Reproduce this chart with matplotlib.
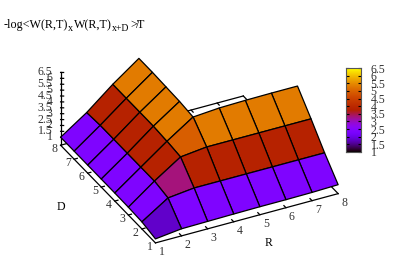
import numpy as np
import matplotlib
matplotlib.use('Agg')
import matplotlib.pyplot as plt
from matplotlib.colors import LinearSegmentedColormap, Normalize
from mpl_toolkits.mplot3d.art3d import Poly3DCollection

plt.rcParams['font.family'] = ['Liberation Serif', 'DejaVu Serif']

n = np.nan
r_ticks = [1, 2, 3, 4, 5, 6, 7, 8]
d_ticks = [1, 2, 3, 4, 5, 6, 7, 8]
z_ticks = [1, 1.5, 2, 2.5, 3, 3.5, 4, 4.5, 5, 5.5, 6, 6.5]
z_labels = ['1', '1.5', '2', '2.5', '3', '3.5', '4', '4.5', '5', '5.5', '6', '6.5']
z_base = 0.32

# heights, one row per D (1 to 8), one column per R (1 to 8)
z_d1 = [0.66, 0.92, 0.95, 0.98, 1.0, 1.0, 1.02, 1.08]
z_d2 = [0.92, 2.35, 2.6, 2.6, 2.6, 2.6, 2.6, 2.6]
z_d3 = [0.98, 2.6, 4.05, 4.3, 4.3, 4.3, 4.3, 4.3]
z_d4 = [1.0, 2.6, 4.2, 5.66, 5.83, 5.88, 5.9, 5.9]
z_d5 = [1.0, 2.6, 4.3, 5.8, n, n, n, n]
z_d6 = [1.0, 2.6, 4.3, 5.85, n, n, n, n]
z_d7 = [1.0, 2.6, 4.3, 5.9, n, n, n, n]
z_d8 = [1.0, 2.5, 4.3, 5.9, n, n, n, n]
heights = np.array([z_d1, z_d2, z_d3, z_d4, z_d5, z_d6, z_d7, z_d8])

# colour value of each facet, read from the palette
c_d1 = [1.8, 2.37, 2.37, 2.37, 2.37, 2.37, 2.37]
c_d2 = [2.37, 3.3, 3.8, 3.8, 3.8, 3.8, 3.8]
c_d3 = [2.37, 3.8, 4.95, 5.3, 5.3, 5.3, 5.3]
c_d4 = [2.37, 3.8, 5.3, n, n, n, n]
c_d5 = [2.37, 3.8, 5.3, n, n, n, n]
c_d6 = [2.37, 3.8, 5.3, n, n, n, n]
c_d7 = [2.37, 3.8, 5.3, n, n, n, n]
cells = np.array([c_d1, c_d2, c_d3, c_d4, c_d5, c_d6, c_d7])

# gnuplot default pm3d palette (rgbformulae 7,5,15)
g = np.linspace(0, 1, 256)
palette = np.column_stack([np.sqrt(g), g**3, np.clip(np.sin(2 * np.pi * g), 0, 1)])
cmap = LinearSegmentedColormap.from_list('pm3d', palette)
norm = Normalize(1, 6.5)

fig = plt.figure(figsize=(3.99, 2.79), dpi=100)
ax = fig.add_axes([-3.9 / 399, 2.7 / 279, 1, 1], projection='3d', proj_type='ortho',
                  computed_zorder=False)
ax.set_box_aspect((206, 209, 86), zoom=1.06)
ax.view_init(elev=31.8, azim=-117.1)
ax.set_xlim(1, 8, view_margin=0)
ax.set_ylim(1, 8, view_margin=0)
ax.set_zlim(z_base, 6.5, view_margin=0)
ax.set_axis_off()
ax.patch.set_alpha(0)

line = dict(color='black', lw=0.9, zorder=1, clip_on=False)
# base frame
ax.plot([1, 8], [1, 1], [z_base, z_base], **line)
ax.plot([1, 1], [1, 8], [z_base, z_base], **line)
ax.plot([8, 8], [1, 8], [z_base, z_base], **line)
ax.plot([1, 8], [8, 8], [z_base, z_base], **line)
ax.plot([1, 1], [8, 8], [z_base, 6.5], **line)

for r in r_ticks[1:-1]:
    ax.plot([r, r], [1, 1.15], [z_base, z_base], **line)
    ax.plot([r, r], [8, 7.85], [z_base, z_base], **line)
for d in d_ticks[1:-1]:
    ax.plot([1, 1.12], [d, d], [z_base, z_base], **line)
    ax.plot([8, 7.88], [d, d], [z_base, z_base], **line)
for z in z_ticks:
    ax.plot([1, 1.09], [8, 7.95], [z, z], **line)

# surface
polys, faces = [], []
for i in range(cells.shape[0]):
    for j in range(cells.shape[1]):
        if np.isnan(cells[i, j]):
            continue
        rr = [r_ticks[j], r_ticks[j + 1], r_ticks[j + 1], r_ticks[j]]
        dd = [d_ticks[i], d_ticks[i], d_ticks[i + 1], d_ticks[i + 1]]
        zz = [heights[i, j], heights[i, j + 1], heights[i + 1, j + 1], heights[i + 1, j]]
        polys.append(list(zip(rr, dd, zz)))
        faces.append(cmap(norm(cells[i, j])))
surface = Poly3DCollection(polys, facecolors=faces, edgecolors='black', linewidths=0.9,
                           zsort='average', zorder=2)
ax.add_collection3d(surface)
surface.set_clip_on(False)

grey = '#333333'
for r in r_ticks:
    ax.text(r - 0.083, 0.4, z_base, str(r), ha='center', va='center', fontsize=8.5, color=grey)
for d in d_ticks:
    ax.text(0.7, d - 0.135, z_base, str(d), ha='center', va='center', fontsize=8.5, color=grey)
for z, lab in zip(z_ticks, z_labels):
    ax.text(0.756, 8.122, z, lab, ha='right', va='center', fontsize=8.5, color=grey)

fig.text(269 / 399, 1 - 243 / 279, 'R', ha='center', va='center', fontsize=8.5)
fig.text(61 / 399, 1 - 207 / 279, 'D', ha='center', va='center', fontsize=8.5)

# title, written piece by piece for the subscripts
title_parts = ['-log<W(R,T)', 'x', 'W(R,T)', 'x+D', '>', '/', 'T']
title_x = [4, 68, 74, 112, 130.5, 135.5, 137]
title_base = [28, 31, 28, 31, 28, 28, 28]
title_size = [8.7, 7.3, 8.7, 7.0, 8.7, 8.7, 8.7]
for s, x, y, fs in zip(title_parts, title_x, title_base, title_size):
    fig.text(x / 399, 1 - y / 279, s, ha='left', va='baseline', fontsize=fs)

# colour box
cax = fig.add_axes([346 / 399, 1 - 152 / 279, 15 / 399, 84 / 279])
cax.imshow(np.linspace(1, 6.5, 256).reshape(-1, 1), cmap=cmap, norm=norm, aspect='auto',
           origin='lower', extent=[0, 1, 1, 6.5])
cax.set_xticks([])
cax.set_yticks(z_ticks)
cax.set_yticklabels(z_labels, fontsize=8.5, color=grey)
cax.yaxis.tick_right()
cax.tick_params(axis='y', which='both', left=True, right=True, direction='in', length=2.5,
                width=0.8, pad=7)
for s in cax.spines.values():
    s.set_linewidth(0.8)
    s.set_color('#555555')

fig.savefig('out.png', dpi=100)
